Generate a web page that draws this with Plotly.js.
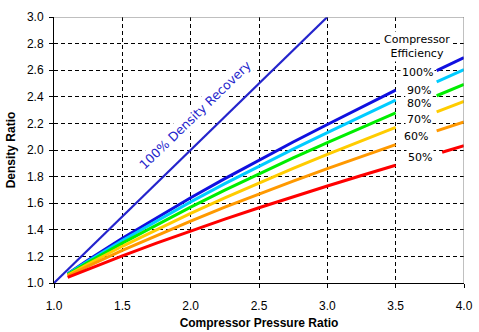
<!DOCTYPE html>
<html>
<head>
<meta charset="utf-8">
<script src="https://cdn.plot.ly/plotly-3.0.1.min.js"></script>
<style>html,body{margin:0;padding:0;background:#fff;}#chart{width:479px;height:332px;}</style>
</head>
<body>
<div id="chart"></div>
<script>
// Compressor pressure ratio (x) sample points
var prLeft = [1.1, 1.25, 1.5, 1.75, 2.0, 2.25, 2.5, 2.75, 3.0, 3.25, 3.5];
var prRight = [3.8, 3.9, 4.0];
var prRight50 = [3.84, 3.9, 4.0];

// 100% density recovery reference line
var recoveryX = [1.0, 3.0];
var recoveryY = [1.0, 3.0];

// Density ratio per compressor efficiency
var eff100 = [1.070, 1.173, 1.336, 1.491, 1.641, 1.785, 1.924, 2.060, 2.192, 2.321, 2.450];
var eff100R = [2.597, 2.646, 2.695];
var eff90 = [1.067, 1.165, 1.320, 1.468, 1.610, 1.747, 1.879, 2.007, 2.131, 2.253, 2.375];
var eff90R = [2.512, 2.558, 2.605];
var eff80 = [1.063, 1.155, 1.300, 1.438, 1.571, 1.698, 1.821, 1.940, 2.056, 2.169, 2.280];
var eff80R = [2.408, 2.451, 2.493];
var eff70 = [1.058, 1.143, 1.276, 1.403, 1.524, 1.640, 1.752, 1.861, 1.967, 2.069, 2.170];
var eff70R = [2.287, 2.326, 2.366];
var eff60 = [1.052, 1.127, 1.245, 1.358, 1.466, 1.570, 1.670, 1.766, 1.860, 1.951, 2.040];
var eff60R = [2.144, 2.178, 2.212];
var eff50 = [1.043, 1.105, 1.204, 1.300, 1.392, 1.480, 1.566, 1.649, 1.729, 1.808, 1.885];
var eff50R = [1.983, 2.002, 2.032];

var effLabels = ['100%', '90%', '80%', '70%', '60%', '50%'];
var effColors = ['#1010E0', '#00CCFF', '#00EE00', '#FFCC00', '#FF9900', '#FF0000'];
var effLeft = [eff100, eff90, eff80, eff70, eff60, eff50];
var effRight = [eff100R, eff90R, eff80R, eff70R, eff60R, eff50R];
var labelY = [2.579, 2.451, 2.346, 2.233, 2.105, 1.947];
var labelX = [3.659, 3.67, 3.67, 3.67, 3.648, 3.677];

var traces = [{
  x: recoveryX, y: recoveryY, mode: 'lines', type: 'scatter',
  line: {color: '#2424CC', width: 2.2}, hoverinfo: 'skip'
}];
for (var i = 0; i < effLabels.length; i++) {
  traces.push({x: prLeft, y: effLeft[i], mode: 'lines', type: 'scatter',
    line: {color: effColors[i], width: 3}, name: effLabels[i]});
  traces.push({x: (i === 5 ? prRight50 : prRight), y: effRight[i], mode: 'lines', type: 'scatter',
    line: {color: effColors[i], width: 3}, name: effLabels[i], showlegend: false});
}

var annFont = {family: 'DejaVu Sans', size: 11, color: '#000'};
var annotations = [{
  x: 2.035, y: 2.27, xref: 'x', yref: 'y', text: '100% Density Recovery',
  textangle: -44, showarrow: false, bgcolor: '#fff',
  font: {family: 'DejaVu Sans', size: 12.5, color: '#2424CC'}
}, {
  x: 3.655, y: 2.778, xref: 'x', yref: 'y', text: 'Compressor<br>Efficiency',
  showarrow: false, bgcolor: '#fff', font: annFont
}];
for (var j = 0; j < effLabels.length; j++) {
  annotations.push({x: labelX[j], y: labelY[j], xref: 'x', yref: 'y', text: effLabels[j],
    showarrow: false, bgcolor: '#fff', font: annFont});
}

var axisCommon = {
  showline: true, linecolor: '#000', linewidth: 1,
  showgrid: true, gridcolor: '#000', gridwidth: 1, griddash: '4px,3px',
  zeroline: false, ticks: 'outside', ticklen: 4, tickcolor: '#000',
  tickfont: {family: 'Liberation Sans, Arial', size: 12, color: '#000'},
  tickformat: '.1f', fixedrange: true
};

var layout = {
  width: 479, height: 332,
  margin: {l: 54, r: 15, t: 17, b: 49},
  paper_bgcolor: '#fff', plot_bgcolor: '#fff',
  showlegend: false,
  xaxis: Object.assign({}, axisCommon, {
    range: [1, 4], dtick: 0.5, tick0: 1, ticklabelstandoff: 8,
    title: {text: 'Compressor Pressure Ratio', standoff: 6,
      font: {family: 'Liberation Sans, Arial', size: 12, color: '#000', weight: 'bold'}}
  }),
  yaxis: Object.assign({}, axisCommon, {
    range: [1, 3], dtick: 0.2, tick0: 1, ticklabelstandoff: 3,
    title: {text: 'Density Ratio', standoff: 8,
      font: {family: 'Liberation Sans, Arial', size: 12, color: '#000', weight: 'bold'}}
  }),
  shapes: [
    {type: 'line', xref: 'x', yref: 'y', x0: 1, x1: 4, y0: 3, y1: 3, layer: 'above', line: {color: '#808080', width: 1}},
    {type: 'line', xref: 'x', yref: 'y', x0: 4, x1: 4, y0: 1, y1: 3, layer: 'above', line: {color: '#808080', width: 1}}
  ],
  annotations: annotations
};

Plotly.newPlot('chart', traces, layout, {displayModeBar: false, staticPlot: true});
</script>
</body>
</html>
